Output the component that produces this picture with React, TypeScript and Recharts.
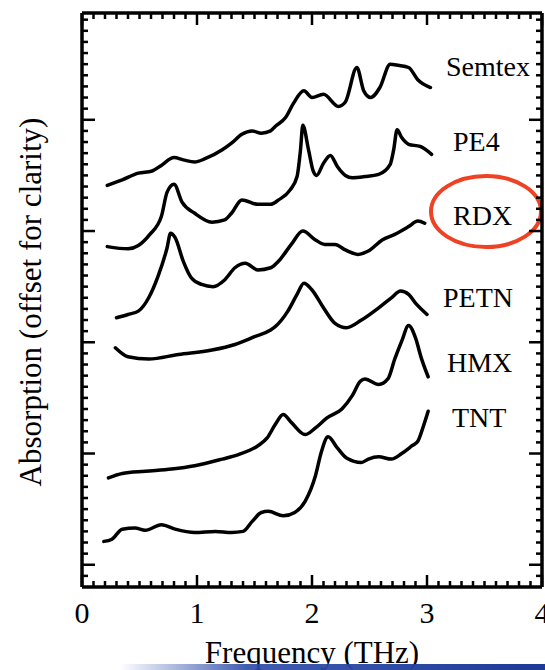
import { Line, LineChart, XAxis, YAxis } from "recharts";

const SERIF = '"Liberation Serif", "Times New Roman", serif';

// frequency (THz) / absorption (arb., offset) pairs for each spectrum
const semtexFreq = [0.22, 0.35, 0.49, 0.61, 0.69, 0.8, 0.88, 0.98, 1.07, 1.22, 1.3, 1.39, 1.48, 1.56, 1.64, 1.68, 1.77, 1.84, 1.93, 2.0, 2.1, 2.23, 2.29, 2.39, 2.45, 2.51, 2.59, 2.68, 2.75, 2.84, 2.92, 3.03];
const semtexAbs = [3.41, 3.46, 3.52, 3.54, 3.59, 3.66, 3.64, 3.62, 3.65, 3.73, 3.79, 3.87, 3.9, 3.88, 3.9, 3.94, 4.02, 4.15, 4.26, 4.2, 4.23, 4.12, 4.16, 4.47, 4.26, 4.2, 4.29, 4.5, 4.49, 4.47, 4.36, 4.29];

const pe4Freq = [0.22, 0.4, 0.49, 0.59, 0.69, 0.74, 0.8, 0.87, 0.98, 1.13, 1.24, 1.3, 1.39, 1.53, 1.64, 1.71, 1.81, 1.87, 1.9, 1.92, 1.97, 2.01, 2.04, 2.1, 2.16, 2.22, 2.29, 2.35, 2.46, 2.58, 2.68, 2.71, 2.74, 2.78, 2.84, 2.94, 3.04];
const pe4Abs = [2.86, 2.84, 2.87, 2.97, 3.13, 3.35, 3.42, 3.26, 3.16, 3.08, 3.1, 3.16, 3.28, 3.24, 3.24, 3.28, 3.37, 3.49, 3.73, 3.95, 3.73, 3.54, 3.5, 3.61, 3.68, 3.58, 3.5, 3.48, 3.49, 3.51, 3.6, 3.73, 3.91, 3.84, 3.78, 3.76, 3.69];

const rdxFreq = [0.3, 0.4, 0.49, 0.58, 0.66, 0.74, 0.77, 0.81, 0.88, 0.95, 1.04, 1.14, 1.24, 1.33, 1.42, 1.53, 1.64, 1.71, 1.82, 1.92, 2.03, 2.11, 2.2, 2.29, 2.4, 2.49, 2.61, 2.72, 2.84, 2.92, 2.98];
const rdxAbs = [2.22, 2.25, 2.28, 2.4, 2.59, 2.85, 2.98, 2.94, 2.73, 2.58, 2.52, 2.5, 2.56, 2.67, 2.71, 2.65, 2.67, 2.73, 2.88, 3.0, 2.92, 2.88, 2.88, 2.83, 2.79, 2.82, 2.92, 2.97, 3.04, 3.09, 3.07];

const petnFreq = [0.29, 0.4, 0.58, 0.84, 1.13, 1.33, 1.5, 1.64, 1.68, 1.79, 1.87, 1.93, 2.0, 2.1, 2.2, 2.3, 2.43, 2.58, 2.69, 2.77, 2.84, 2.91, 3.0];
const petnAbs = [1.95, 1.87, 1.85, 1.89, 1.93, 1.98, 2.05, 2.11, 2.14, 2.28, 2.43, 2.53, 2.47, 2.31, 2.17, 2.13, 2.2, 2.31, 2.4, 2.46, 2.43, 2.34, 2.25];

const hmxFreq = [0.23, 0.35, 0.55, 0.78, 0.98, 1.22, 1.36, 1.53, 1.61, 1.68, 1.75, 1.82, 1.94, 2.03, 2.13, 2.26, 2.35, 2.42, 2.46, 2.58, 2.66, 2.72, 2.78, 2.84, 2.9, 2.95, 3.01];
const hmxAbs = [0.78, 0.82, 0.84, 0.86, 0.89, 0.95, 0.99, 1.07, 1.14, 1.26, 1.35, 1.28, 1.17, 1.23, 1.32, 1.4, 1.52, 1.65, 1.67, 1.62, 1.67, 1.85, 2.01, 2.15, 2.04, 1.86, 1.69];

const tntFreq = [0.19, 0.26, 0.35, 0.46, 0.55, 0.69, 0.81, 0.98, 1.16, 1.3, 1.4, 1.48, 1.56, 1.62, 1.75, 1.85, 1.94, 2.03, 2.08, 2.14, 2.22, 2.3, 2.43, 2.49, 2.58, 2.69, 2.78, 2.87, 2.92, 2.97, 3.01];
const tntAbs = [0.21, 0.23, 0.32, 0.33, 0.31, 0.36, 0.32, 0.29, 0.3, 0.29, 0.3, 0.39, 0.47, 0.48, 0.44, 0.47, 0.57, 0.8, 1.01, 1.15, 1.05, 0.96, 0.92, 0.95, 0.97, 0.95, 1.0, 1.07, 1.11, 1.25, 1.38];

const freqMajorTicks = [0, 1, 2, 3, 4];
const freqTickLabels = ["0", "1", "2", "3", "4"];
const absMajorTicks = [0, 1, 2, 3, 4];

// minor ticks every 0.1 on both axes
const freqTicks = Array.from({ length: 41 }, (_, i) => i / 10);
const absTicks = Array.from({ length: 51 }, (_, i) => (i - 1) / 10);

const FREQ_DOMAIN: [number, number] = [0, 4];
const ABS_DOMAIN: [number, number] = [-0.2, 4.96];

const zip = (fs: number[], as: number[]) => fs.map((f, i) => ({ f, a: as[i] }));

const spectra = [
  { name: "Semtex", data: zip(semtexFreq, semtexAbs), lx: 446, ly: 76 },
  { name: "PE4", data: zip(pe4Freq, pe4Abs), lx: 453, ly: 151 },
  { name: "RDX", data: zip(rdxFreq, rdxAbs), lx: 453, ly: 225 },
  { name: "PETN", data: zip(petnFreq, petnAbs), lx: 443, ly: 307 },
  { name: "HMX", data: zip(hmxFreq, hmxAbs), lx: 447, ly: 372 },
  { name: "TNT", data: zip(tntFreq, tntAbs), lx: 452, ly: 427 },
];

const W = 545;
const H = 670;
const MARGIN = { top: 12, right: 2, bottom: 42, left: 81 };
const AXIS_W = 1;
const LABEL_AXIS_H = 40;

// plot box as laid out by the chart (margins plus 1px frame axes)
const PLOT = {
  left: MARGIN.left + AXIS_W,
  right: W - MARGIN.right - AXIS_W,
  top: MARGIN.top + AXIS_W,
  bottom: H - MARGIN.bottom - LABEL_AXIS_H - AXIS_W,
};

// same linear mapping the axes use, for the inward frame ticks
const xPx = (f: number) =>
  PLOT.left + ((f - FREQ_DOMAIN[0]) / (FREQ_DOMAIN[1] - FREQ_DOMAIN[0])) * (PLOT.right - PLOT.left);
const yPx = (a: number) =>
  PLOT.bottom - ((a - ABS_DOMAIN[0]) / (ABS_DOMAIN[1] - ABS_DOMAIN[0])) * (PLOT.bottom - PLOT.top);

const isMajor = (v: number, majors: number[]) => majors.some((m) => Math.abs(m - v) < 1e-6);

const frame = { stroke: "#000", strokeWidth: 3.5 };

function FrameTicks() {
  const lines: any[] = [];
  freqTicks.forEach((f) => {
    const len = isMajor(f, freqMajorTicks) ? 12 : 6;
    const x = xPx(f);
    lines.push(<line key={`b${f}`} x1={x} y1={PLOT.bottom} x2={x} y2={PLOT.bottom - len} />);
    lines.push(<line key={`t${f}`} x1={x} y1={PLOT.top} x2={x} y2={PLOT.top + len} />);
  });
  absTicks.forEach((a) => {
    const len = isMajor(a, absMajorTicks) ? 13 : 6;
    const y = yPx(a);
    lines.push(<line key={`l${a}`} x1={PLOT.left} y1={y} x2={PLOT.left + len} y2={y} />);
    lines.push(<line key={`r${a}`} x1={PLOT.right} y1={y} x2={PLOT.right - len} y2={y} />);
  });
  return (
    <g stroke="#000" strokeWidth={2.5}>
      {lines}
    </g>
  );
}

export default function App() {
  return (
    <div style={{ position: "absolute", left: 0, top: 0, width: W, height: H, background: "#fff" }}>
      <LineChart width={W} height={H} margin={MARGIN}>
        <defs>
          <linearGradient id="band" x1="0" x2="1" y1="0" y2="0">
            <stop offset="0" stopColor="#2a4aa8" stopOpacity={0} />
            <stop offset="0.3" stopColor="#2a4aa8" stopOpacity={0.9} />
            <stop offset="1" stopColor="#1c3a96" stopOpacity={1} />
          </linearGradient>
        </defs>
        <XAxis
          xAxisId="bottom"
          dataKey="f"
          type="number"
          domain={FREQ_DOMAIN}
          allowDataOverflow
          height={AXIS_W}
          tick={false}
          tickLine={false}
          axisLine={frame}
        />
        <XAxis
          xAxisId="labels"
          dataKey="f"
          type="number"
          domain={FREQ_DOMAIN}
          allowDataOverflow
          ticks={freqMajorTicks}
          tickFormatter={(v: number) => freqTickLabels[freqMajorTicks.indexOf(v)]}
          interval={0}
          height={LABEL_AXIS_H}
          tickSize={0}
          tickMargin={14}
          tickLine={false}
          axisLine={false}
          tick={{ fontSize: 30, fontFamily: SERIF, fill: "#000" }}
        />
        <XAxis
          xAxisId="top"
          orientation="top"
          dataKey="f"
          type="number"
          domain={FREQ_DOMAIN}
          allowDataOverflow
          height={AXIS_W}
          tick={false}
          tickLine={false}
          axisLine={frame}
        />
        <YAxis
          yAxisId="left"
          type="number"
          domain={ABS_DOMAIN}
          allowDataOverflow
          width={AXIS_W}
          tick={false}
          tickLine={false}
          axisLine={frame}
        />
        <YAxis
          yAxisId="right"
          orientation="right"
          type="number"
          domain={ABS_DOMAIN}
          allowDataOverflow
          width={AXIS_W}
          tick={false}
          tickLine={false}
          axisLine={frame}
        />
        {spectra.map((s) => (
          <Line
            key={s.name}
            xAxisId="bottom"
            yAxisId="left"
            data={s.data}
            dataKey="a"
            type="monotone"
            stroke="#000"
            strokeWidth={3.5}
            strokeLinecap="round"
            dot={false}
            activeDot={false}
            isAnimationActive={false}
          />
        ))}
        {spectra.map((s) => (
          <text key={`lbl-${s.name}`} x={s.lx} y={s.ly} fontSize={28} fontFamily={SERIF} fill="#000">
            {s.name}
          </text>
        ))}
        <ellipse cx={486} cy={211.5} rx={55} ry={35.5} fill="none" stroke="#ef4123" strokeWidth={4} />
        <text x={312} y={663} textAnchor="middle" fontSize={31} fontFamily={SERIF} fill="#000">
          Frequency (THz)
        </text>
        <text
          x={41}
          y={302}
          textAnchor="middle"
          fontSize={31}
          fontFamily={SERIF}
          fill="#000"
          transform="rotate(-90 41 302)"
        >
          Absorption (offset for clarity)
        </text>
        <rect x={120} y={664} width={W - 120} height={6} fill="url(#band)" />
        <FrameTicks />
      </LineChart>
    </div>
  );
}
